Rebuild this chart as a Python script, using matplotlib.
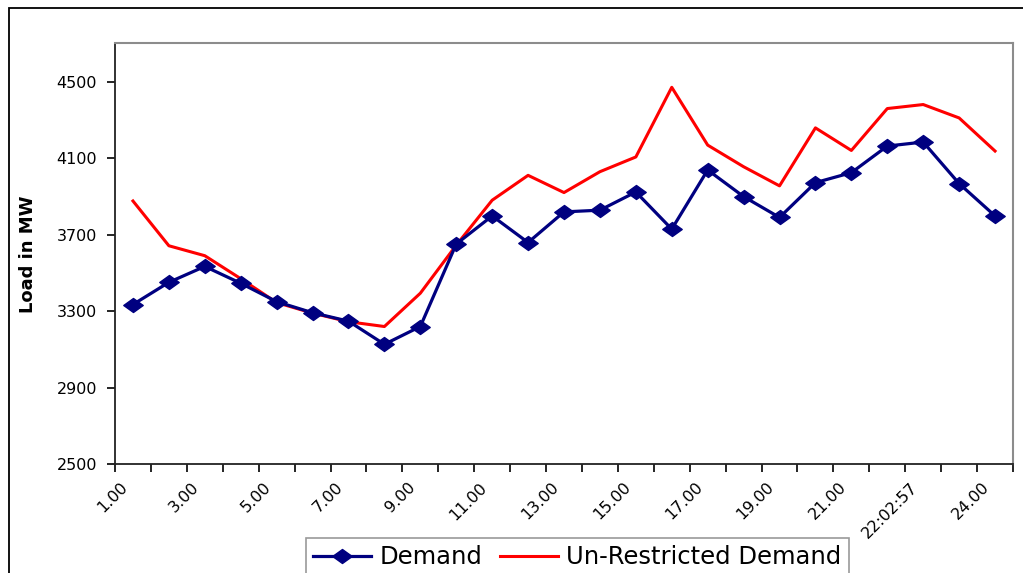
import matplotlib.pyplot as plt
from matplotlib.path import Path
from matplotlib.patches import Rectangle
from matplotlib.transforms import ScaledTranslation

# Hourly load values
hours = ['1.00', '2.00', '3.00', '4.00', '5.00', '6.00', '7.00', '8.00', '9.00',
         '10.00', '11.00', '12.00', '13.00', '14.00', '15.00', '16.00', '17.00',
         '18.00', '19.00', '20.00', '21.00', '22.00', '22:02:57', '23.00', '24.00']
demand = [3335, 3451, 3534, 3446, 3350, 3292, 3248, 3127, 3220, 3651, 3798, 3659,
          3819, 3828, 3923, 3729, 4038, 3899, 3790, 3972, 4024, 4163, 4184, 3967, 3798]
unrestricted = [3876, 3642, 3590, 3470, 3345, 3290, 3245, 3220, 3394, 3645, 3880, 4010,
                3920, 4029, 4106, 4470, 4168, 4055, 3955, 4258, 4140, 4359, 4380, 4310, 4137]
y_ticks = [2500, 2900, 3300, 3700, 4100, 4500]

DPI = 100
W, H = 1023, 573
fig = plt.figure(figsize=(W / DPI, H / DPI), dpi=DPI)
plt.rcParams['font.family'] = ['DejaVu Sans']

# outer chart border (only top and left are visible in the image)
fig.add_artist(Rectangle((9 / W, -0.2), 1.2, 1 - 8 / H + 0.2, transform=fig.transFigure,
                         fill=False, edgecolor='black', linewidth=1.3, clip_on=False))

ax = fig.add_axes([115 / W, 1 - 464.3 / H, (1013 - 115) / W, (464.3 - 43.3) / H])

# wide diamond marker (the original is stretched horizontally)
diamond = Path([(-1, 0), (0, 0.72), (1, 0), (0, -0.72), (-1, 0)],
               [Path.MOVETO, Path.LINETO, Path.LINETO, Path.LINETO, Path.CLOSEPOLY])

x = list(range(len(hours)))
ax.plot(x, demand, color='#000080', linewidth=2.3, marker=diamond, markersize=14,
        label='Demand', zorder=3)
ax.plot(x, unrestricted, color='#FF0000', linewidth=2.2, label='Un-Restricted Demand',
        zorder=2)

ax.set_xlim(-0.5, len(hours) - 0.5)
ax.set_ylim(2500, 4700)
ax.set_yticks(y_ticks)
ax.tick_params(axis='y', direction='out', length=6, width=1.2, labelsize=11.5, pad=7)

# major ticks carry labels, minor ticks mark category boundaries
ax.set_xticks(x[::2])
ax.set_xticklabels(hours[::2], rotation=45, ha='right', va='top', rotation_mode='anchor')
ax.set_xticks([i - 0.5 for i in range(len(hours) + 1)], minor=True)
ax.tick_params(axis='x', which='major', length=0, labelsize=11.5, pad=11)
ax.tick_params(axis='x', which='minor', direction='out', length=6, width=1.2)
offset = ScaledTranslation(-13 / DPI, 0, fig.dpi_scale_trans)
for lbl in ax.get_xticklabels():
    lbl.set_transform(lbl.get_transform() + offset)

for side in ['left', 'bottom']:
    ax.spines[side].set_color('#222222')
    ax.spines[side].set_linewidth(1.3)
for side in ['top', 'right']:
    ax.spines[side].set_color('#8c8c8c')
    ax.spines[side].set_linewidth(1.5)

ax.set_ylabel('Load in MW', fontsize=13, fontweight='bold')
ax.yaxis.set_label_coords(-0.087, 0.5)

leg = ax.legend(loc='upper center', bbox_to_anchor=(577.5 / W, 1 - 538 / H),
                bbox_transform=fig.transFigure, ncol=2, fontsize=17.5, frameon=True,
                fancybox=False, borderaxespad=0, handlelength=2.39, handletextpad=0.33,
                columnspacing=0.74, borderpad=0.3)
leg.get_frame().set_edgecolor('#808080')
leg.get_frame().set_linewidth(1.2)

fig.savefig('out.png', dpi=DPI)
